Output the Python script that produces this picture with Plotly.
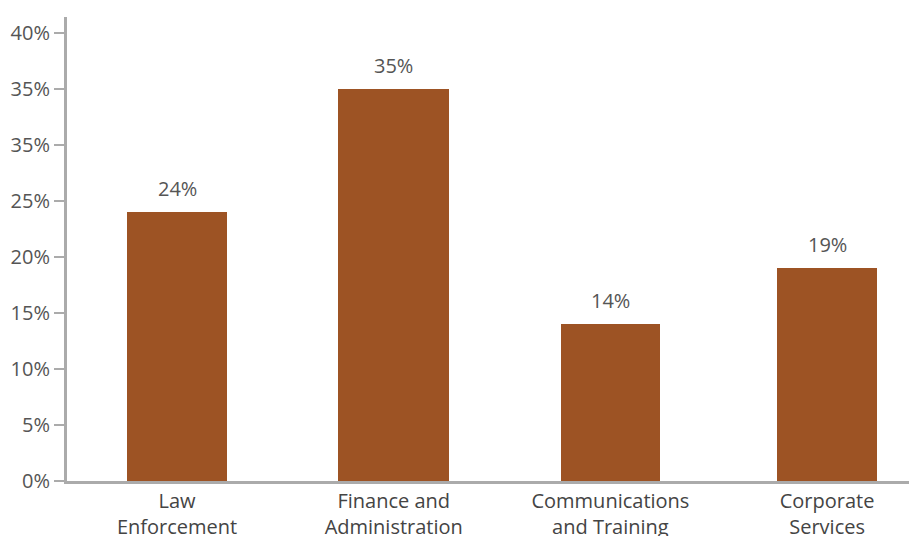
import plotly.graph_objects as go

# Share of staff by division
categories = ["Law<br>Enforcement", "Finance and<br>Administration",
              "Communications<br>and Training", "Corporate<br>Services"]
shares = [24, 35, 14, 19]
value_labels = ["24%", "35%", "14%", "19%"]

# Y-axis ticks (label text as printed)
tick_values = [0, 5, 10, 15, 20, 25, 30, 35, 40]
tick_text = ["0%", "5%", "10%", "15%", "20%", "25%", "35%", "35%", "40%"]

bar_color = "#9D5324"
text_color = "#555555"
axis_color = "#ABABAB"
font_family = "Open Sans, Noto Sans, sans-serif"

fig = go.Figure(
    go.Bar(
        x=list(range(len(categories))),
        y=shares,
        width=[0.46, 0.51, 0.46, 0.46],
        marker=dict(color=bar_color, line=dict(width=0)),
        hoverinfo="skip",
    )
)

for i, (v, label) in enumerate(zip(shares, value_labels)):
    fig.add_annotation(
        x=i, y=v, text=label, showarrow=False,
        yanchor="bottom", yshift=8,
        font=dict(family=font_family, size=20, color=text_color),
    )

fig.update_layout(
    width=909, height=536,
    margin=dict(l=67, r=0, t=17, b=55),
    paper_bgcolor="white", plot_bgcolor="white",
    showlegend=False,
    font=dict(family=font_family, size=20, color=text_color),
    bargap=0,
)

fig.update_xaxes(
    range=[-0.508, 3.378],
    tickmode="array",
    tickvals=list(range(len(categories))),
    ticktext=categories,
    ticks="",
    automargin=False,
    showgrid=False, zeroline=False,
    showline=True, linecolor=axis_color, linewidth=3,
    tickfont=dict(family=font_family, size=20, color="#444444"),
)

fig.update_yaxes(
    range=[0, 41.4],
    tickmode="array",
    tickvals=tick_values,
    ticktext=tick_text,
    ticks="outside", ticklen=10, tickwidth=1.5, tickcolor=axis_color,
    automargin=False,
    showgrid=False, zeroline=False,
    showline=True, linecolor=axis_color, linewidth=3,
    tickfont=dict(family=font_family, size=20, color=text_color),
)

fig.write_html("out.html")
